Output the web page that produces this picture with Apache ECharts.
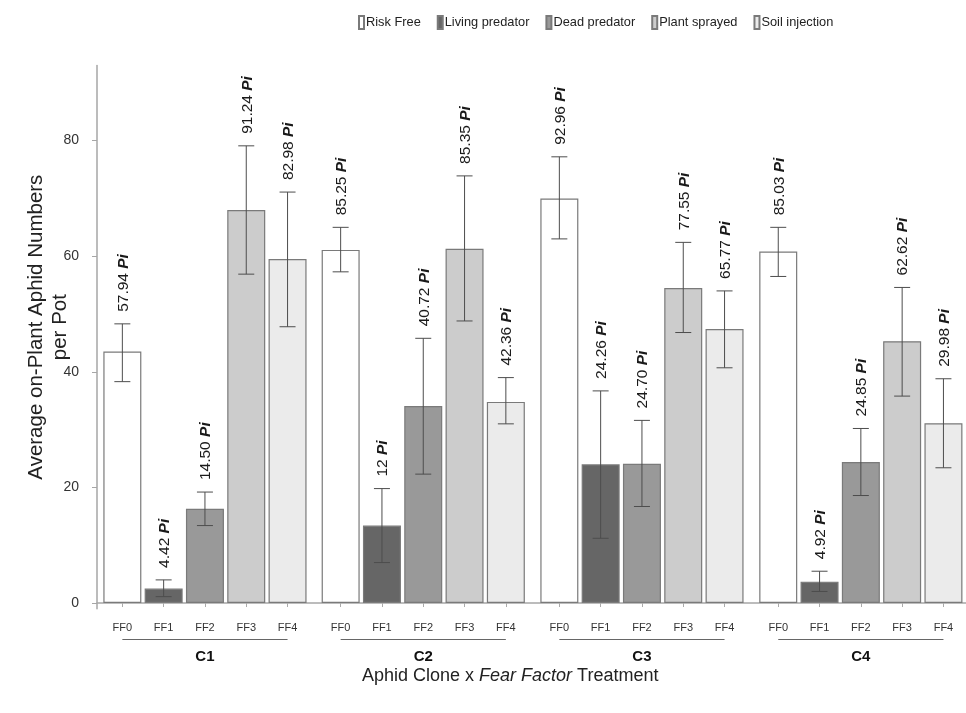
<!DOCTYPE html>
<html>
<head>
<meta charset="utf-8">
<script src="https://cdn.jsdelivr.net/npm/echarts@6/dist/echarts.min.js"></script>
<style>
html, body { margin: 0; padding: 0; background: #fff; }
#main { width: 966px; height: 713px; }
</style>
</head>
<body>
<div id="main"></div>
<script>
var clones = ['C1', 'C2', 'C3', 'C4'];
var treatments = ['FF0', 'FF1', 'FF2', 'FF3', 'FF4'];
var legendNames = ['Risk Free', 'Living predator', 'Dead predator', 'Plant sprayed', 'Soil injection'];
var yTicks = [0, 20, 40, 60, 80];

// mean aphid numbers, one row per clone
var means = [
	[43.5, 2.5, 16.3, 68.0, 59.5],
	[61.1, 13.4, 34.1, 61.3, 34.8],
	[70.0, 24.0, 24.1, 54.5, 47.4],
	[60.8, 3.7, 24.4, 45.3, 31.1]
];
var errLow = [
	[38.3, 1.1, 13.4, 56.9, 47.8],
	[57.3, 7.0, 22.3, 48.8, 31.0],
	[63.0, 11.2, 16.7, 46.8, 40.7],
	[56.5, 2.0, 18.6, 35.8, 23.4]
];
var errHigh = [
	[48.3, 4.0, 19.2, 79.1, 71.1],
	[65.0, 19.8, 45.8, 73.9, 39.0],
	[77.2, 36.7, 31.6, 62.4, 54.0],
	[65.0, 5.5, 30.2, 54.6, 38.8]
];
var piLabels = [
	['57.94', '4.42', '14.50', '91.24', '82.98'],
	['85.25', '12', '40.72', '85.35', '42.36'],
	['92.96', '24.26', '24.70', '77.55', '65.77'],
	['85.03', '4.92', '24.85', '62.62', '29.98']
];

var fills = ['#ffffff', '#666666', '#999999', '#cccccc', '#ebebeb'];
var font = 'Liberation Sans, Arial, sans-serif';

var dom = document.getElementById('main');
var myChart = echarts.init(dom);

var gridTop = 65.5, gridH = 543.3;
var groupLeft = [101.7, 320, 538.7, 757.6];
var groupW = 206.5;

var grids = [{ left: 97, right: 0, top: gridTop, height: gridH, outerBoundsMode: 'none' }];
var xAxes = [{
	gridIndex: 0, type: 'value', min: 0, max: 1,
	axisLine: { show: true, lineStyle: { color: '#a6a6a6', width: 1.5 } },
	axisTick: { show: false }, axisLabel: { show: false }, splitLine: { show: false }
}];
var yAxes = [{
	gridIndex: 0, type: 'value', min: -1, max: 93,
	name: 'Average on-Plant Aphid Numbers\nper Pot',
	nameLocation: 'middle', nameGap: 25, nameMoveOverlap: false,
	nameTextStyle: { fontSize: 20.5, lineHeight: 24, color: '#222', fontFamily: font, padding: [0, 0, 0, 20] },
	axisLine: { show: true, lineStyle: { color: '#a6a6a6', width: 1.5 } },
	axisTick: { show: true, length: 5, customValues: yTicks, lineStyle: { color: '#a6a6a6' } },
	axisLabel: { customValues: yTicks, fontSize: 14, color: '#333', margin: 18, fontFamily: font },
	splitLine: { show: false }
}];

clones.forEach(function (c, g) {
	grids.push({ left: groupLeft[g], width: groupW, top: gridTop, height: gridH, outerBoundsMode: 'none' });
	xAxes.push({
		gridIndex: g + 1, type: 'category', data: treatments,
		name: c, nameLocation: 'middle', nameGap: 41, nameMoveOverlap: false,
		nameTextStyle: { fontSize: 15, fontWeight: 'bold', color: '#111', fontFamily: font },
		axisLine: { show: false },
		axisTick: { show: true, alignWithLabel: true, length: 4, lineStyle: { color: '#aaa' } },
		axisLabel: { fontSize: 11, color: '#333', margin: 14, fontFamily: font }
	});
	yAxes.push({ gridIndex: g + 1, type: 'value', min: -1, max: 93, show: false });
});

var series = [];
legendNames.forEach(function (nm, k) {
	clones.forEach(function (c, g) {
		series.push({
			type: 'bar', name: nm, xAxisIndex: g + 1, yAxisIndex: g + 1,
			stack: 's' + g, barWidth: 38,
			itemStyle: { color: fills[k], borderColor: '#7a7a7a', borderWidth: 1.2 },
			data: treatments.map(function (t, i) { return i === k ? means[g][i] : '-'; })
		});
	});
});

clones.forEach(function (c, g) {
	series.push({
		type: 'custom', xAxisIndex: g + 1, yAxisIndex: g + 1, silent: true, z: 10,
		encode: { x: 0, y: [1, 2] },
		data: treatments.map(function (t, i) { return [i, errLow[g][i], errHigh[g][i]]; }),
		renderItem: function (params, api) {
			var lo = api.coord([api.value(0), api.value(1)]);
			var hi = api.coord([api.value(0), api.value(2)]);
			var x = lo[0], cap = 8;
			var ls = { stroke: '#4d4d4d', lineWidth: 1 };
			return {
				type: 'group',
				children: [
					{ type: 'line', shape: { x1: x, y1: lo[1], x2: x, y2: hi[1] }, style: ls },
					{ type: 'line', shape: { x1: x - cap, y1: lo[1], x2: x + cap, y2: lo[1] }, style: ls },
					{ type: 'line', shape: { x1: x - cap, y1: hi[1], x2: x + cap, y2: hi[1] }, style: ls },
					{
						type: 'text', x: x + 1, y: hi[1] - 12, rotation: Math.PI / 2,
						style: {
							text: '{n|' + piLabels[g][params.dataIndex] + ' }{p|Pi}',
							align: 'left', verticalAlign: 'middle',
							rich: {
								n: { fontSize: 15.5, fontFamily: font, fill: '#1a1a1a' },
								p: { fontSize: 15.5, fontFamily: font, fontWeight: 'bold', fontStyle: 'italic', fill: '#1a1a1a' }
							}
						}
					}
				]
			};
		}
	});
});

option = {
	animation: false,
	title: {
		text: '{a|Aphid Clone x }{b|Fear Factor}{a| Treatment}',
		left: 362, top: 667, padding: 0,
		textStyle: {
			fontWeight: 'normal',
			rich: {
				a: { fontSize: 18, color: '#222', fontWeight: 'normal', fontFamily: font },
				b: { fontSize: 18, color: '#222', fontWeight: 'normal', fontStyle: 'italic', fontFamily: font }
			}
		}
	},
	legend: {
		data: legendNames, left: 353, top: 10,
		icon: 'rect', itemWidth: 5, itemHeight: 13, itemGap: 16,
		textStyle: { fontSize: 12.8, color: '#222', fontFamily: font, padding: [0, 0, 0, -3] }
	},
	grid: grids,
	xAxis: xAxes,
	yAxis: yAxes,
	series: series
};
myChart.setOption(option);

// group underline from FF0 to FF4 under every clone
var lines = [];
clones.forEach(function (c, g) {
	var x0 = myChart.convertToPixel({ xAxisIndex: g + 1 }, 0);
	var x4 = myChart.convertToPixel({ xAxisIndex: g + 1 }, 4);
	lines.push({
		type: 'line', shape: { x1: x0, y1: 639.5, x2: x4, y2: 639.5 },
		style: { stroke: '#666', lineWidth: 1.2 }, silent: true
	});
});
myChart.setOption({ graphic: lines });
</script>
</body>
</html>
